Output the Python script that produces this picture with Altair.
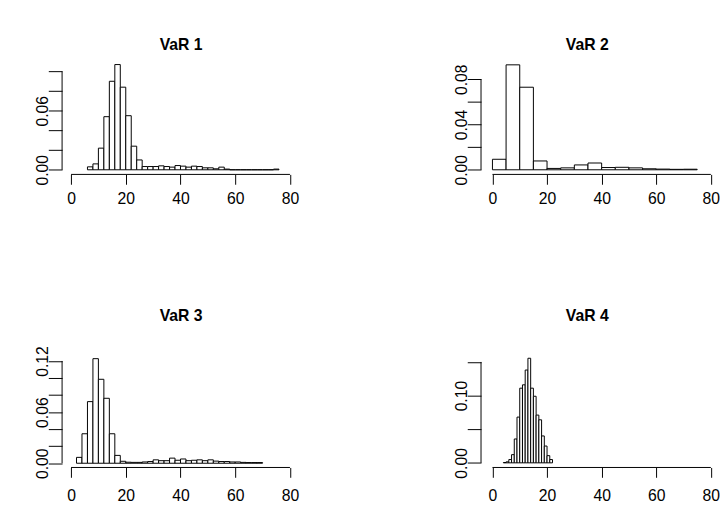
import altair as alt
import pandas as pd

FONT = "Liberation Sans"

# ---------------- data ----------------
titles = ["VaR 1", "VaR 2", "VaR 3", "VaR 4"]
x_tick_values = [0, 20, 40, 60, 80]

var1_start, var1_width = 6, 2
var1_density = [0.003, 0.006, 0.022, 0.054, 0.090, 0.107, 0.084, 0.055, 0.024, 0.010,
                0.0033, 0.0033, 0.0033, 0.004, 0.0033, 0.0027, 0.0043, 0.0037, 0.0027, 0.0037,
                0.0033, 0.002, 0.002, 0.001, 0.0027, 0.0007, 0.0, 0.0, 0.0, 0.0,
                0.0, 0.0, 0.0, 0.0, 0.0007]
var1_yticks = [0.0, 0.02, 0.04, 0.06, 0.08, 0.10]
var1_ylabels = [0.0, 0.06]

var2_start, var2_width = 0, 5
var2_density = [0.0093, 0.0928, 0.0730, 0.0078, 0.0012, 0.0017, 0.0043, 0.006,
                0.002, 0.0022, 0.0017, 0.0009, 0.0006, 0.0004, 0.0005]
var2_yticks = [0.0, 0.02, 0.04, 0.06, 0.08]
var2_ylabels = [0.0, 0.04, 0.08]

var3_start, var3_width = 2, 2
var3_density = [0.0069, 0.0346, 0.0723, 0.1227, 0.0985, 0.0762, 0.0346, 0.0092, 0.0023,
                0.0012, 0.001, 0.001, 0.0015, 0.002, 0.004, 0.003, 0.003, 0.006, 0.0035,
                0.005, 0.003, 0.0035, 0.004, 0.003, 0.004, 0.0025, 0.002, 0.002, 0.0015,
                0.0015, 0.001, 0.0008, 0.0008, 0.0008]
var3_yticks = [0.0, 0.02, 0.04, 0.06, 0.08, 0.10, 0.12]
var3_ylabels = [0.0, 0.06, 0.12]

var4_start, var4_width = 4, 1
var4_density = [0.0005, 0.0015, 0.0049, 0.0122, 0.0355, 0.068, 0.111, 0.116, 0.138,
                0.1555, 0.111, 0.099, 0.071, 0.064, 0.040, 0.025, 0.0107, 0.0049]
var4_yticks = [0.0, 0.05, 0.10, 0.15]
var4_ylabels = [0.0, 0.10]


def label_expr(shown):
    cond = " || ".join(f"abs(datum.value - {v}) < 1e-9" for v in shown)
    return f"({cond}) ? format(datum.value, '.2f') : ''"


def panel(title, start, width, dens, yticks, ylabels, xdom, ydom, w, h,
          title_dx, title_dy, xlab_pad):
    bars = pd.DataFrame({
        "x": [start + i * width for i in range(len(dens))],
        "x2": [start + (i + 1) * width for i in range(len(dens))],
        "y": dens,
        "y2": [0.0] * len(dens),
    })
    xaxis_line = pd.DataFrame({"x": [x_tick_values[0]], "x2": [x_tick_values[-1]], "y": [ydom[0]]})
    yaxis_line = pd.DataFrame({"x": [xdom[0]], "y": [yticks[0]], "y2": [yticks[-1]]})

    def xenc():
        return alt.X("x:Q", scale=alt.Scale(domain=xdom, nice=False, zero=False),
                     axis=alt.Axis(values=x_tick_values, domain=False, grid=False,
                                   tickSize=10, labelPadding=xlab_pad, labelBaseline="top",
                                   format="d", title=None, labelFlush=False))

    def yenc():
        return alt.Y("y:Q", scale=alt.Scale(domain=ydom, nice=False, zero=False),
                     axis=alt.Axis(values=yticks, domain=False, grid=False, tickSize=14,
                                   labelAngle=270, labelAlign="center",
                                   labelBaseline="alphabetic", labelPadding=1,
                                   labelExpr=label_expr(ylabels), title=None,
                                   labelFlush=False, labelOverlap=False))

    b = alt.Chart(bars).mark_rect(fill="white", stroke="black", strokeWidth=1).encode(
        x=xenc(), x2="x2:Q", y=yenc(), y2="y2:Q")
    xl = alt.Chart(xaxis_line).mark_rule(color="black", strokeWidth=1).encode(
        x=xenc(), x2="x2:Q", y=yenc())
    yl = alt.Chart(yaxis_line).mark_rule(color="black", strokeWidth=1).encode(
        x=xenc(), y=yenc(), y2="y2:Q")
    return alt.layer(b, xl, yl).properties(
        width=w, height=h,
        title=alt.TitleParams(text=title, font=FONT, fontSize=16, fontWeight="bold",
                              color="black", anchor="middle", baseline="alphabetic",
                              offset=0, dx=title_dx, dy=title_dy, frame="group"))


p1 = panel(titles[0], var1_start, var1_width, var1_density, var1_yticks, var1_ylabels,
           [-3.27, 83.70], [-0.0047, 0.1143], 242, 119, 0, 8.4, 7)
p2 = panel(titles[1], var2_start, var2_width, var2_density, var2_yticks, var2_ylabels,
           [-4.18, 81.55], [-0.004087, 0.09939], 238, 119, -11, 8.4, 7)
p3 = panel(titles[2], var3_start, var3_width, var3_density, var3_yticks, var3_ylabels,
           [-3.27, 83.70], [-0.00496, 0.14388], 242, 129, 0, -3.6, 11)
p4 = panel(titles[3], var4_start, var4_width, var4_density, var4_yticks, var4_ylabels,
           [-4.18, 81.55], [-0.00687, 0.18173], 238, 129, -11, -3.6, 11)

chart = alt.concat(p1, p2, p3, p4, columns=2, spacing={"row": 169, "column": 184},
                   bounds="flush").properties(
    padding={"left": 26, "top": 25, "right": 0, "bottom": 0},
    background="white",
).configure_axis(
    labelFont=FONT, labelFontSize=16, labelColor="black", tickColor="black", tickWidth=1
).configure_view(strokeWidth=0)

chart.save("out.html", embed_options={"renderer": "svg", "actions": False})
